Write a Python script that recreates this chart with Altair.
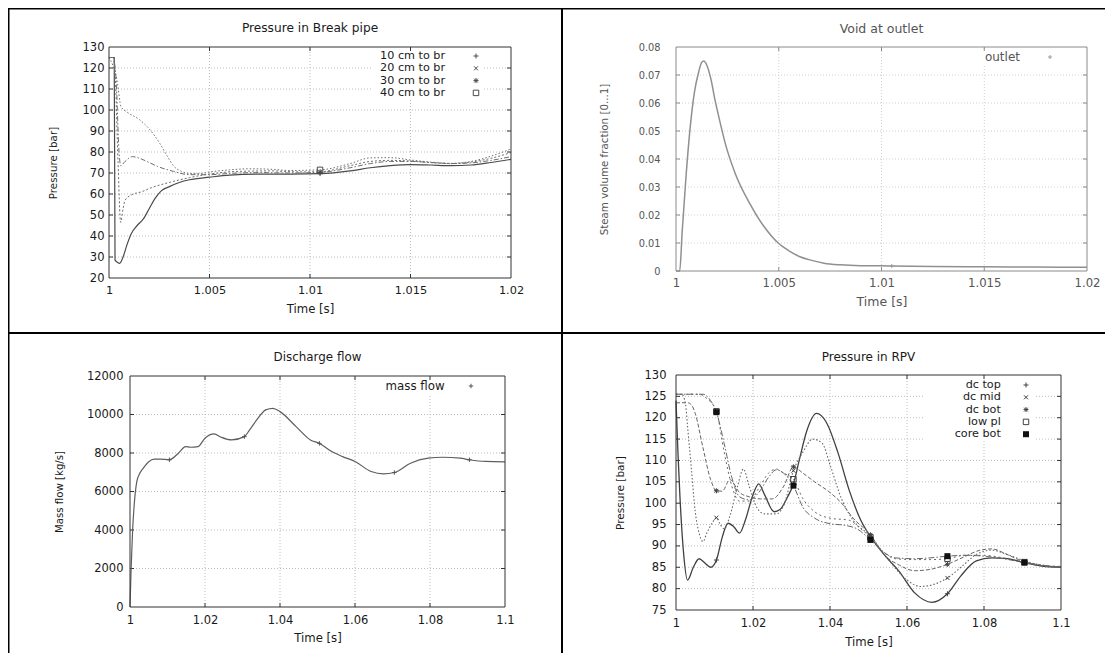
import altair as alt
import pandas as pd

FONT = "DejaVu Sans"
W, H = 1097, 645

# ---------------- Panel 1: Pressure in Break pipe ----------------
P1_NAMES = ["10 cm to br", "20 cm to br", "30 cm to br", "40 cm to br"]
P1_T10 = [1.0, 1.00026, 1.0003, 1.00042, 1.00053, 1.0007, 1.0009, 1.0011, 1.0014, 1.0017, 1.002, 1.0023,
          1.0026, 1.003, 1.0035, 1.004, 1.005, 1.006, 1.0075, 1.009, 1.0105, 1.012, 1.013, 1.014, 1.015,
          1.016, 1.017, 1.018, 1.019, 1.02]
P1_V10 = [125, 125, 28.5, 27.5, 27, 30, 36, 41, 45, 48, 53, 58, 61.5, 63.5, 65.5, 66.8, 68, 69, 69.5, 69.5,
          69.7, 71, 72.5, 73.5, 74, 73.8, 73.5, 73.8, 75, 76.5]
P1_T20 = [1.0, 1.0002, 1.0003, 1.00045, 1.00058, 1.0007, 1.0008, 1.0011, 1.0016, 1.0022, 1.003, 1.004, 1.005,
          1.0065, 1.008, 1.0095, 1.0105, 1.012, 1.013, 1.014, 1.015, 1.016, 1.017, 1.018, 1.019, 1.02]
P1_V20 = [125, 125, 118, 75, 46.5, 53, 57, 59.5, 61, 63.3, 65.5, 67.8, 69.5, 70.8, 71, 70.5, 70.6, 73.5, 75.5,
          76, 75.7, 75, 74.5, 75.2, 77, 79.7]
P1_T30 = [1.0, 1.0002, 1.00035, 1.0005, 1.00058, 1.0008, 1.00116, 1.0016, 1.002, 1.0024, 1.0032, 1.004, 1.005,
          1.006, 1.0075, 1.009, 1.0105, 1.012, 1.013, 1.014, 1.015, 1.016, 1.017, 1.018, 1.019, 1.02]
P1_V30 = [125, 125, 115, 80, 73.5, 75.5, 77.8, 76.7, 75, 73.2, 70.8, 69.2, 69.2, 69.8, 70.2, 70, 70.3, 72.5,
          74.5, 75.5, 75.5, 75, 74.5, 74.8, 76, 77.8]
P1_T40 = [1.0, 1.0002, 1.0004, 1.0006, 1.0009, 1.0015, 1.002, 1.0025, 1.0029, 1.0032, 1.0036, 1.004, 1.0045,
          1.005, 1.006, 1.007, 1.008, 1.009, 1.0105, 1.012, 1.013, 1.014, 1.015, 1.016, 1.017, 1.018, 1.019, 1.02]
P1_V40 = [125, 121, 114, 101.5, 99, 95.5, 91, 84.5, 78, 73.5, 70.8, 69.8, 69.8, 70.5, 71.5, 72, 71.8, 71.2,
          71.5, 74.5, 77.2, 77.3, 76.2, 75.2, 74.6, 75.5, 78, 81.5]
P1_XTICKS = [1, 1.005, 1.01, 1.015, 1.02]
P1_YTICKS = [20, 30, 40, 50, 60, 70, 80, 90, 100, 110, 120, 130]
P1_MARK_T = [1.0105]

# ---------------- Panel 2: Void at outlet ----------------
P2_NAMES = ["outlet"]
P2_T = [1.0, 1.00018, 1.0003, 1.0005, 1.0007, 1.0009, 1.0011, 1.00125, 1.00135, 1.0015, 1.0017, 1.0019,
        1.0021, 1.0024, 1.0029, 1.0036, 1.0043, 1.005, 1.0055, 1.006, 1.0066, 1.0072, 1.008, 1.009, 1.0105,
        1.0125, 1.015, 1.0175, 1.02]
P2_V = [0, 0, 0.014, 0.035, 0.052, 0.064, 0.071, 0.0745, 0.075, 0.0735, 0.0685, 0.061, 0.0545, 0.0455,
        0.0345, 0.024, 0.0157, 0.0098, 0.0072, 0.0052, 0.0038, 0.0028, 0.0022, 0.0019, 0.0018, 0.0016,
        0.0015, 0.0014, 0.0013]
P2_XTICKS = [1, 1.005, 1.01, 1.015, 1.02]
P2_YTICKS = [0, 0.01, 0.02, 0.03, 0.04, 0.05, 0.06, 0.07, 0.08]
P2_MARK_T = [1.0105]

# ---------------- Panel 3: Discharge flow ----------------
P3_NAMES = ["mass flow"]
P3_T = [1.0, 1.0003, 1.0007, 1.0012, 1.0018, 1.0025, 1.0035, 1.005, 1.0065, 1.008, 1.0105, 1.0129, 1.0148,
        1.0162, 1.0181, 1.02, 1.0224, 1.0243, 1.0271, 1.0305, 1.0319, 1.0338, 1.0362, 1.0381, 1.04, 1.0443,
        1.0481, 1.0505, 1.0538, 1.0567, 1.06, 1.0643, 1.0676, 1.0705, 1.0748, 1.0795, 1.0833, 1.0881, 1.0905,
        1.0948, 1.1]
P3_V = [0, 2000, 4000, 5500, 6500, 6900, 7200, 7550, 7680, 7680, 7650, 7990, 8330, 8300, 8330, 8770, 8990,
        8820, 8680, 8850, 9200, 9720, 10240, 10320, 10150, 9370, 8680, 8500, 8075, 7810, 7560, 7040, 6920,
        6985, 7470, 7730, 7780, 7730, 7650, 7560, 7540]
P3_XTICKS = [1, 1.02, 1.04, 1.06, 1.08, 1.1]
P3_YTICKS = [0, 2000, 4000, 6000, 8000, 10000, 12000]
MARK_T = [1.0105, 1.0305, 1.0505, 1.0705, 1.0905]

# ---------------- Panel 4: Pressure in RPV ----------------
P4_NAMES = ["dc top", "dc mid", "dc bot", "low pl", "core bot"]
P4_T_TOP = [1.0, 1.0005, 1.001, 1.002, 1.003, 1.0045, 1.006, 1.0075, 1.009, 1.0105, 1.012, 1.0135, 1.015,
            1.0165, 1.018, 1.02, 1.0215, 1.023, 1.0255, 1.027, 1.029, 1.0305, 1.032, 1.034, 1.0365, 1.039,
            1.042, 1.045, 1.048, 1.0505, 1.054, 1.058, 1.062, 1.0665, 1.0705, 1.074, 1.078, 1.082, 1.086,
            1.0905, 1.095, 1.1]
P4_V_TOP = [124, 112, 102, 88, 82, 85, 87, 86, 85, 86.7, 92, 95.3, 94.5, 93, 96, 102, 104.5, 102, 98, 98.5,
            101.5, 104.5, 110, 117, 121, 119, 112, 103, 96, 92.2, 88, 84, 79, 76.8, 78.8, 83, 86.5, 87.2,
            87, 86.1, 85.3, 85]
P4_T_MID = [1.0, 1.0015, 1.0025, 1.003, 1.004, 1.005, 1.006, 1.007, 1.008, 1.0095, 1.0105, 1.0115, 1.0125,
            1.014, 1.016, 1.0175, 1.019, 1.021, 1.023, 1.026, 1.028, 1.0305, 1.033, 1.0355, 1.038, 1.04,
            1.043, 1.046, 1.0505, 1.055, 1.06, 1.0635, 1.067, 1.0705, 1.074, 1.078, 1.082, 1.086, 1.0905,
            1.095, 1.1]
P4_V_MID = [125.5, 125.5, 123, 118, 108, 98, 93, 91, 93, 95.5, 96.6, 95, 94, 97, 104, 108, 104, 99, 97.5,
            97.5, 99.5, 107.6, 112, 115, 114, 109, 101, 96, 92.3, 87, 82, 80.5, 81, 82.5, 85, 88, 89, 88,
            86.5, 85.5, 85]
P4_T_BOT = [1.0, 1.003, 1.004, 1.005, 1.007, 1.009, 1.0105, 1.012, 1.014, 1.0165, 1.019, 1.022, 1.025,
            1.028, 1.0305, 1.033, 1.036, 1.04, 1.043, 1.046, 1.0505, 1.054, 1.058, 1.062, 1.066, 1.0705,
            1.075, 1.079, 1.082, 1.086, 1.0905, 1.095, 1.1]
P4_V_BOT = [123.5, 123.5, 123, 121, 113, 105.5, 102.9, 102.8, 105.5, 102.5, 101.5, 101, 101, 104, 108.5,
            107, 105, 102.5, 100, 96.5, 92.6, 88, 85.5, 84.2, 84.5, 85.7, 87.5, 89, 89.3, 88, 86.2, 85.3, 85]
P4_T_LOW = [1.0, 1.006, 1.008, 1.0105, 1.0125, 1.0145, 1.0165, 1.019, 1.0215, 1.024, 1.026, 1.028, 1.0305,
            1.033, 1.036, 1.04, 1.045, 1.048, 1.0505, 1.054, 1.057, 1.062, 1.066, 1.0705, 1.075, 1.08,
            1.085, 1.0905, 1.095, 1.1]
P4_V_LOW = [125.5, 125.5, 124.5, 121.5, 112, 104, 100.5, 100.5, 103.5, 107, 108, 107, 105.6, 101, 98,
            96.5, 96, 94, 92, 88.5, 87, 86.8, 86.8, 87, 87.8, 87.8, 87.2, 86.2, 85.5, 85.2]
P4_T_CORE = [1.0, 1.007, 1.009, 1.0105, 1.0125, 1.0145, 1.0165, 1.019, 1.0215, 1.024, 1.026, 1.028, 1.0305,
             1.033, 1.036, 1.04, 1.044, 1.047, 1.0505, 1.054, 1.057, 1.062, 1.066, 1.0705, 1.075, 1.08,
             1.085, 1.0905, 1.095, 1.1]
P4_V_CORE = [125.5, 125.5, 124, 121.3, 114, 106, 101.5, 100.8, 102.5, 106, 107.8, 107, 104.1, 99, 96.5,
             95.2, 94.8, 94, 91.4, 88.5, 87.2, 87, 87.2, 87.6, 87.8, 87.6, 87, 86.1, 85.5, 85]
P4_XTICKS = [1, 1.02, 1.04, 1.06, 1.08, 1.1]
P4_YTICKS = [75, 80, 85, 90, 95, 100, 105, 110, 115, 120, 125, 130]

# marker glyphs (gnuplot point types)
PLUS = "M-1,0H1M0,-1V1"
CROSS = "M-0.8,-0.8L0.8,0.8M-0.8,0.8L0.8,-0.8"
STAR = "M-1,0H1M0,-1V1M-0.75,-0.75L0.75,0.75M-0.75,0.75L0.75,-0.75"

ONE = pd.DataFrame({"k": [0]})
TICK_LEN = 4


def build_panel(sp):
    x0, x1, y0, y1 = sp["box"]
    xd, yd = sp["xdom"], sp["ydom"]
    tc = sp["txt"]
    xs = alt.Scale(domain=xd, range=[x0, x1], nice=False, zero=False)
    ys = alt.Scale(domain=yd, range=[y1, y0], nice=False, zero=False)
    xaxis = alt.Axis(orient="bottom", offset=y1 - H, values=sp["xticks"], format="~g", title="Time [s]",
                     titleX=(x0 + x1) / 2, titleY=sp["xt_dy"], titleBaseline="middle", titleAlign="center",
                     titleAngle=0, grid=False, domain=False, ticks=False, labelPadding=sp["xlp"],
                     labelFontSize=sp["xls"], titleFontSize=sp["xts"], labelColor=tc, titleColor=tc,
                     labelFlush=False, labelOverlap=False)
    yaxis = alt.Axis(orient="left", offset=-x0, values=sp["yticks"], format=sp["yfmt"], title=sp["ytitle"],
                     titleX=sp["yt_x"] - x0, titleY=(y0 + y1) / 2, titleAngle=-90, titleBaseline="middle",
                     titleAlign="center", grid=False, domain=False, ticks=False, labelPadding=sp["ylp"],
                     labelFontSize=sp["yls"], titleFontSize=sp["yts"], labelColor=tc, titleColor=tc,
                     labelFlush=False, labelOverlap=False)
    X = alt.X("t:Q", scale=xs, axis=xaxis)
    Y = alt.Y("v:Q", scale=ys, axis=yaxis)

    layers = []
    # dotted grid at the ticks
    gx = pd.DataFrame({"t": sp["xticks"][1:-1]})
    gx["v"] = yd[0]
    gx["v2"] = yd[1]
    gy = pd.DataFrame({"v": sp["yticks"][1:-1]})
    gy["t"] = xd[0]
    gy["t2"] = xd[1]
    layers.append(alt.Chart(gx).mark_rule(color=sp["gridc"], strokeDash=[1, 2], strokeWidth=1).encode(
        x=X, y=Y, y2="v2:Q"))
    layers.append(alt.Chart(gy).mark_rule(color=sp["gridc"], strokeDash=[1, 2], strokeWidth=1).encode(
        y=Y, x=X, x2="t2:Q"))
    # key box blanks the grid
    bx0, bx1, by0, by1 = sp["keybg"]
    layers.append(alt.Chart(ONE).mark_rect(color="white").encode(
        x=alt.value(bx0), x2=alt.value(bx1), y=alt.value(by0), y2=alt.value(by1)))
    # inward tick marks on all four sides of the frame
    tx = pd.DataFrame({"t": sp["xticks"][1:-1]})
    ty = pd.DataFrame({"v": sp["yticks"][1:-1]})
    for a, b in ((y1 - TICK_LEN, y1), (y0, y0 + TICK_LEN)):
        layers.append(alt.Chart(tx).mark_rule(color=sp["frame"], strokeWidth=1).encode(
            x=X, y=alt.value(a), y2=alt.value(b)))
    for a, b in ((x0, x0 + TICK_LEN), (x1 - TICK_LEN, x1)):
        layers.append(alt.Chart(ty).mark_rule(color=sp["frame"], strokeWidth=1).encode(
            y=Y, x=alt.value(a), x2=alt.value(b)))
    # curves
    for (t, v), (col, dash, wid) in zip(sp["series"], sp["styles"]):
        d = pd.DataFrame({"t": t, "v": v})
        kw = dict(interpolate="monotone", color=col, strokeWidth=wid)
        if dash:
            kw["strokeDash"] = dash
        layers.append(alt.Chart(d).mark_line(**kw).encode(x=X, y=Y))
    # point markers on the curves
    for (t, v), (shape, filled, size, col) in zip(sp["series"], sp["markers"]):
        d = pd.DataFrame({"t": t, "v": v})
        d = d[d["t"].isin(sp["mark_t"])]
        layers.append(alt.Chart(d).mark_point(shape=shape, filled=filled, size=size, color=col,
                                              strokeWidth=1, opacity=1).encode(x=X, y=Y))
    # plot frame
    fr = pd.DataFrame({"t": [xd[0]], "t2": [xd[1]], "v": [yd[0]], "v2": [yd[1]]})
    layers.append(alt.Chart(fr).mark_rect(fillOpacity=0, stroke=sp["frame"], strokeWidth=1).encode(
        x=X, x2="t2:Q", y=Y, y2="v2:Q"))
    # key
    for name, (shape, filled, size, col), ry in zip(sp["names"], sp["markers"], sp["key_rows"]):
        layers.append(alt.Chart(ONE).mark_text(align="right", baseline="middle", font=FONT,
                                               fontSize=sp["keys"], color=tc).encode(
            x=alt.value(sp["key_x"]), y=alt.value(ry), text=alt.value(name)))
        layers.append(alt.Chart(ONE).mark_point(shape=shape, filled=filled, size=size, color=col,
                                                strokeWidth=1, opacity=1).encode(
            x=alt.value(sp["key_mx"]), y=alt.value(ry)))
    # panel title
    layers.append(alt.Chart(ONE).mark_text(align="center", baseline="middle", font=FONT,
                                           fontSize=sp["ts"], color=tc).encode(
        x=alt.value(sp["title_xy"][0]), y=alt.value(sp["title_xy"][1]), text=alt.value(sp["title"])))
    return alt.layer(*layers)


D1, M1 = "#4a4a4a", "#6e6e6e"
sp1 = dict(
    box=(101, 503, 39, 270), xdom=[1, 1.02], ydom=[20, 130], xticks=P1_XTICKS, yticks=P1_YTICKS, yfmt="d",
    txt="#1a1a1a", gridc="#bdbdbd", frame="#333", names=P1_NAMES,
    series=[(P1_T10, P1_V10), (P1_T20, P1_V20), (P1_T30, P1_V30), (P1_T40, P1_V40)],
    styles=[(D1, None, 1.2), (M1, [2, 2], 1), (M1, [5, 2, 1.5, 2], 1), (M1, [1.5, 2], 1)],
    markers=[(PLUS, False, 25, D1), (CROSS, False, 25, D1), (STAR, False, 25, D1), ("square", False, 30, D1)],
    mark_t=P1_MARK_T, keybg=(365, 474, 41, 92), key_x=437, key_mx=468, key_rows=[48, 60.3, 72.6, 84.9],
    keys=11.2,
    title="Pressure in Break pipe", title_xy=(302, 20), ts=12.2, ytitle="Pressure [bar]", yt_x=45.6,
    xt_dy=30, xlp=6, ylp=5, xls=11.3, yls=11.5, xts=11.7, yts=10.3)

sp2 = dict(
    box=(668, 1079, 39, 263), xdom=[1, 1.02], ydom=[0, 0.08], xticks=P2_XTICKS, yticks=P2_YTICKS, yfmt="~g",
    txt="#555", gridc="#d0d0d0", frame="#8a8a8a", names=P2_NAMES,
    series=[(P2_T, P2_V)], styles=[("#909090", None, 1.5)],
    markers=[(PLUS, False, 16, "#9a9a9a")],
    mark_t=P2_MARK_T, keybg=(955, 1050, 41, 58), key_x=1012, key_mx=1042, key_rows=[49], keys=12,
    title="Void at outlet", title_xy=(873.5, 21), ts=12.5, ytitle="Steam volume fraction [0...1]", yt_x=596,
    xt_dy=30, xlp=6, ylp=16, xls=11.7, yls=9.8, xts=12.5, yts=10.3)

sp3 = dict(
    box=(122, 497, 368, 599), xdom=[1, 1.1], ydom=[0, 12000], xticks=P3_XTICKS, yticks=P3_YTICKS, yfmt="d",
    txt="#1a1a1a", gridc="#bdbdbd", frame="#333", names=P3_NAMES,
    series=[(P3_T, P3_V)], styles=[("#5e5e5e", None, 1.2)],
    markers=[(PLUS, False, 20, "#555")],
    mark_t=MARK_T, keybg=(365, 470, 370, 387), key_x=436.6, key_mx=463, key_rows=[378], keys=11.8,
    title="Discharge flow", title_xy=(309.5, 349), ts=11.9, ytitle="Mass flow [kg/s]", yt_x=51,
    xt_dy=30, xlp=7, ylp=7, xls=11.5, yls=11.5, xts=11.7, yts=10.2)

D4, M4 = "#404040", "#666666"
sp4 = dict(
    box=(668, 1053, 367, 602), xdom=[1, 1.1], ydom=[75, 130], xticks=P4_XTICKS, yticks=P4_YTICKS, yfmt="d",
    txt="#1a1a1a", gridc="#bdbdbd", frame="#333", names=P4_NAMES,
    series=[(P4_T_TOP, P4_V_TOP), (P4_T_MID, P4_V_MID), (P4_T_BOT, P4_V_BOT), (P4_T_LOW, P4_V_LOW),
            (P4_T_CORE, P4_V_CORE)],
    styles=[(D4, None, 1.3), (M4, [1.5, 2], 1.1), (M4, [4, 2], 1), (M4, [2, 3], 1), (M4, [6, 2, 1.5, 2], 1)],
    markers=[(PLUS, False, 25, D4), (CROSS, False, 25, D4), (STAR, False, 25, D4), ("square", False, 30, D4),
             ("square", True, 36, "#111")],
    mark_t=MARK_T, keybg=(915, 1026, 369, 433), key_x=992.8, key_mx=1018,
    key_rows=[377, 389.3, 401.6, 413.9, 426.2], keys=11.2,
    title="Pressure in RPV", title_xy=(860.5, 349), ts=12, ytitle="Pressure [bar]", yt_x=612,
    xt_dy=31, xlp=7, ylp=10, xls=11.5, yls=11.5, xts=11.7, yts=10.5)

panels = [build_panel(s) for s in (sp1, sp2, sp3, sp4)]

# table cell borders: outer top/left and the two dividers
BORDERS = [(0, W, 0.5, None), (0.5, None, 0, H), (554, None, 0, H), (0, W, 325, None)]
border_layers = []
for a, b, c, d in BORDERS:
    if b is not None:
        enc = dict(x=alt.value(a), x2=alt.value(b), y=alt.value(c))
    else:
        enc = dict(x=alt.value(a), y=alt.value(c), y2=alt.value(d))
    border_layers.append(alt.Chart(ONE).mark_rule(color="black", strokeWidth=2).encode(**enc))

chart = alt.layer(*panels, *border_layers).resolve_scale(
    x="independent", y="independent"
).resolve_axis(
    x="independent", y="independent"
).properties(
    width=W, height=H, autosize=alt.AutoSizeParams(type="none"), padding=0, background="white"
).configure_view(
    strokeWidth=0
).configure_axis(
    labelFont=FONT, titleFont=FONT, titleFontWeight="normal"
)

chart.save("out.html", embed_options={"renderer": "svg", "actions": False})
